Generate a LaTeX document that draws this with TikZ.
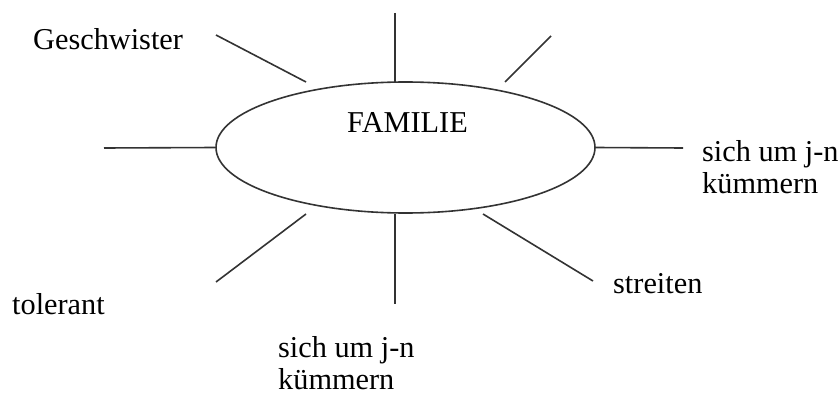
\documentclass[tikz,border=0pt]{standalone}
\usepackage{fontspec}
\setmainfont{Liberation Serif}
\usetikzlibrary{shapes.geometric}
\begin{document}
\begin{tikzpicture}[x=1pt,y=-1pt,
  spoke/.style={draw=black!80, line width=1.6pt},
  lbl/.style={font=\fontsize{30.3}{31.5}\selectfont, inner sep=0pt, anchor=base west, align=left, text=black}]
\useasboundingbox (0,0) rectangle (840,396);
\node[ellipse, draw=black!80, line width=1.6pt, minimum width=379pt, minimum height=131pt, inner sep=0pt] (fam) at (405.5,147.5) {};
\node[lbl] (title) at (347,132) {FAMILIE};
% labels
\node[lbl] (gesch) at (33,49) {Geschwister};
\node[lbl] (kuemR) at (702,193) {sich um j-n\\kümmern};
\node[lbl] (streit) at (613,293) {streiten};
\node[lbl] (toler) at (12,314) {tolerant};
\node[lbl] (kuemB) at (278,389) {sich um j-n\\kümmern};
% spoke ends
\coordinate (tlO) at (216,35);   \coordinate (tlI) at (306,82);
\coordinate (tO) at (395,13);    \coordinate (tI) at (395,82);
\coordinate (trO) at (551,36);   \coordinate (trI) at (505,82);
\coordinate (rO) at (683,148);
\coordinate (lO) at (104,148);
\coordinate (blI) at (306,214);  \coordinate (blO) at (216,282);
\coordinate (bI) at (395,214);   \coordinate (bO) at (395,304);
\coordinate (brI) at (483,214);  \coordinate (brO) at (593,281);
\draw[spoke] (tlO) -- (tlI);
\draw[spoke] (tO) -- (tI);
\draw[spoke] (trO) -- (trI);
\draw[spoke] (fam.east) -- (rO);
\draw[spoke] (lO) -- (fam.west);
\draw[spoke] (blI) -- (blO);
\draw[spoke] (bI) -- (bO);
\draw[spoke] (brI) -- (brO);
\end{tikzpicture}
\end{document}
